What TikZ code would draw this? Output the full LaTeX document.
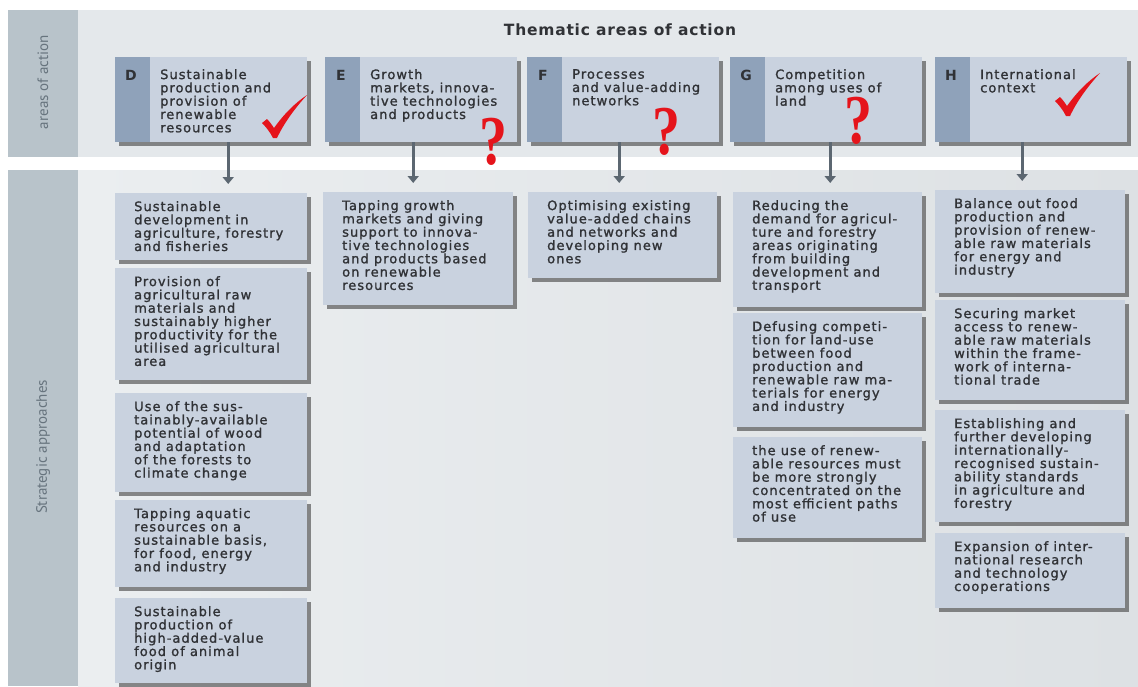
\documentclass[tikz,border=0pt]{standalone}
\usepackage{fontspec}
\setmainfont{DejaVu Sans}
\usetikzlibrary{arrows.meta,shadows}

\newfontfamily\bodyfont[LetterSpace=8, FakeBold=1.3]{DejaVu Sans}
\newfontfamily\headfont[LetterSpace=5]{DejaVu Sans}
\newfontfamily\sidefont{PT Sans}
\newfontfamily\qfont[FakeStretch=0.8]{Liberation Serif}

\definecolor{panel}{HTML}{E4E8EB}
\definecolor{panelL}{HTML}{EBEEF0}
\definecolor{panelR}{HTML}{DDE1E4}
\definecolor{strip}{HTML}{B8C3CA}
\definecolor{stripText}{HTML}{67747E}
\definecolor{boxfill}{HTML}{C9D2DF}
\definecolor{letterfill}{HTML}{8FA2BA}
\definecolor{ink}{HTML}{303236}
\definecolor{arrowgrey}{HTML}{5C6771}
\definecolor{markred}{HTML}{E5141B}

\tikzset{
  box/.style={fill=boxfill, draw=none, inner sep=0pt, anchor=north west,
    drop shadow={shadow xshift=4pt, shadow yshift=-4pt, fill=black!75, opacity=0.6}},
  stext/.style={inner sep=0pt, anchor=north west, align=left, text=ink,
    font=\bodyfont\fontsize{13}{13.3}\selectfont},
  lettertxt/.style={inner sep=0pt, text=ink, font=\headfont\bfseries\fontsize{14}{15}\selectfont},
  qmark/.style={inner sep=0pt, text=markred, font=\qfont\bfseries\fontsize{70}{70}\selectfont},
  sidelabel/.style={rotate=90, inner sep=0pt, text=stripText, font=\sidefont\fontsize{15}{16}\selectfont},
  arr/.style={draw=arrowgrey, line width=2.6pt, -{Triangle[width=11pt,length=7pt]}, shorten >=9pt},
}

% thematic area box: name, x, y, letter, text
\newcommand\areabox[5]{%
  \node[box, minimum width=192pt, minimum height=85pt] (#1) at (#2,#3) {};
  \fill[letterfill] (#1.north west) rectangle ([xshift=35pt]#1.south west);
  \node[lettertxt] (#1-l) at ([xshift=16pt, yshift=-18pt]#1.north west) {#4};
  \node[stext] (#1-t) at ([xshift=45pt, yshift=-12pt]#1.north west) {#5};
}
% strategic approach box: name, x, y, width, height, text
\newcommand\apbox[6]{%
  \node[box, minimum width=#4pt, minimum height=#5pt] (#1) at (#2,#3) {};
  \node[stext] (#1-t) at ([xshift=19pt, yshift=-8pt]#1.north west) {#6};
}
% red tick mark, top-left corner at (x,y)
\newcommand\tickmark[2]{%
  \fill[markred, shift={(#1,#2)}] (0,26) -- (5,22)
    .. controls (8,25) and (10,28) .. (12,31)
    .. controls (22,17) and (33,6) .. (45,-2)
    .. controls (35,9) and (23,24) .. (15,41)
    -- (11,41)
    .. controls (8,35) and (4,30) .. (0,26) -- cycle;
}

\begin{document}
\begin{tikzpicture}[x=1pt, y=-1pt]
\useasboundingbox (0,0) rectangle (1138,686);
\fill[white] (0,0) rectangle (1138,686);

% panels
\fill[panel] (78,10) rectangle (1138,157);
\fill[strip] (8,10) rectangle (78,157);
\shade[left color=panelL, right color=panelR] (78,170) rectangle (1138,686);
\fill[strip] (8,170) rectangle (78,686);

\node[sidelabel] (lblTop) at (43,82) {areas of action};
\node[sidelabel] (lblBottom) at (43,447) {Strategic approaches};

\node[text=ink, inner sep=0pt, font=\headfont\bfseries\fontsize{15.5}{17}\selectfont] (title) at (620,30) {Thematic areas of action};

% thematic areas
\areabox{D}{115}{57}{D}{Sustainable\\production and\\provision of\\renewable\\resources}
\areabox{E}{325}{57}{E}{Growth\\markets, innova-\\tive technologies\\and products}
\areabox{F}{527}{57}{F}{Processes\\and value-adding\\networks}
\areabox{G}{730}{57}{G}{Competition\\among uses of\\land}
\areabox{H}{935}{57}{H}{International\\context}

% strategic approaches
\apbox{D1}{115}{193}{192}{67}{Sustainable\\development in\\agriculture, forestry\\and fisheries}
\apbox{D2}{115}{268}{192}{112}{Provision of\\agricultural raw\\materials and\\sustainably higher\\productivity for the\\utilised agricultural\\area}
\apbox{D3}{115}{393}{192}{99}{Use of the sus-\\tainably-available\\potential of wood\\and adaptation\\of the forests to\\climate change}
\apbox{D4}{115}{500}{192}{87}{Tapping aquatic\\resources on a\\sustainable basis,\\for food, energy\\and industry}
\apbox{D5}{115}{598}{192}{85}{Sustainable\\production of\\high-added-value\\food of animal\\origin}

\apbox{E1}{323}{192}{190}{113}{Tapping growth\\markets and giving\\support to innova-\\tive technologies\\and products based\\on renewable\\resources}

\apbox{F1}{528}{192}{189}{86}{Optimising existing\\value-added chains\\and networks and\\developing new\\ones}

\apbox{G1}{733}{192}{189}{115}{Reducing the\\demand for agricul-\\ture and forestry\\areas originating\\from building\\development and\\transport}
\apbox{G2}{733}{313}{189}{114}{Defusing competi-\\tion for land-use\\between food\\production and\\renewable raw ma-\\terials for energy\\and industry}
\apbox{G3}{733}{437}{189}{101}{the use of renew-\\able resources must\\be more strongly\\concentrated on the\\most efficient paths\\of use}

\apbox{H1}{935}{190}{190}{103}{Balance out food\\production and\\provision of renew-\\able raw materials\\for energy and\\industry}
\apbox{H2}{935}{300}{190}{100}{Securing market\\access to renew-\\able raw materials\\within the frame-\\work of interna-\\tional trade}
\apbox{H3}{935}{410}{190}{112}{Establishing and\\further developing\\internationally-\\recognised sustain-\\ability standards\\in agriculture and\\forestry}
\apbox{H4}{935}{533}{190}{75}{Expansion of inter-\\national research\\and technology\\cooperations}

% connectors
\draw[arr] ([xshift=17pt]D.south) -- ([xshift=17pt]D.south |- D1.north);
\draw[arr] ([xshift=-8pt]E.south) -- ([xshift=-8pt]E.south |- E1.north);
\draw[arr] ([xshift=-4pt]F.south) -- ([xshift=-4pt]F.south |- F1.north);
\draw[arr] ([xshift=4pt]G.south) -- ([xshift=4pt]G.south |- G1.north);
\draw[arr] ([xshift=-9pt]H.south) -- ([xshift=-9pt]H.south |- H1.north);

% assessment marks
\tickmark{262}{97}
\tickmark{1055}{75}
\node[qmark] (qE) at (493,142) {?};
\node[qmark] (qF) at (666,132) {?};
\node[qmark] (qG) at (858,121) {?};
\end{tikzpicture}
\end{document}
